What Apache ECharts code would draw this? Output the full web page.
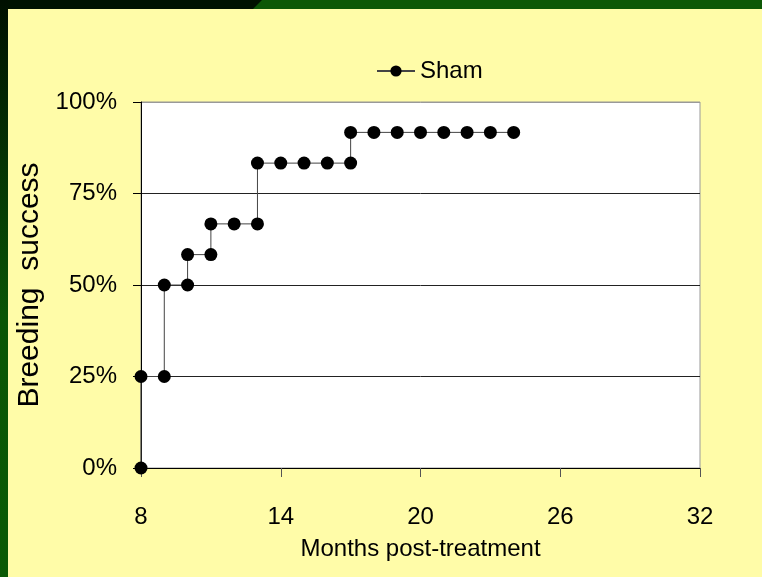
<!DOCTYPE html>
<html>
<head>
<meta charset="utf-8">
<script src="https://cdn.jsdelivr.net/npm/echarts@6/dist/echarts.min.js"></script>
<style>html,body{margin:0;padding:0;}#c{width:762px;height:577px;}</style>
</head>
<body>
<div id="c"></div>
<script>
// Data
var months = [8, 8, 9, 9, 10, 10, 11, 11, 12, 13, 13, 14, 15, 16, 17, 17, 18, 19, 20, 21, 22, 23, 24];
var success = [0, 25, 25, 50, 50, 58.3, 58.3, 66.7, 66.7, 66.7, 83.3, 83.3, 83.3, 83.3, 83.3, 91.7, 91.7, 91.7, 91.7, 91.7, 91.7, 91.7, 91.7];
var xTicks = [8, 14, 20, 26, 32];
var yTicks = [0, 25, 50, 75, 100];
var seriesName = 'Sham';

var points = months.map(function (m, i) { return [m, success[i]]; });
var font = '"Liberation Sans", Arial, sans-serif';

var chart = echarts.init(document.getElementById('c'), null, { renderer: 'canvas' });
chart.setOption({
  backgroundColor: '#FFFCA8',
  animation: false,
  graphic: [
    { type: 'rect', shape: { x: 0, y: 0, width: 762, height: 9 }, style: { fill: '#0D5806' }, silent: true },
    { type: 'polygon', shape: { points: [[0, 0], [262, 0], [253, 9], [0, 9]] }, style: { fill: '#001200' }, silent: true },
    { type: 'rect', shape: { x: 0, y: 0, width: 8, height: 577 },
      style: { fill: new echarts.graphic.LinearGradient(0, 0, 0, 1, [
        { offset: 0, color: '#001000' },
        { offset: 0.55, color: '#0A5506' },
        { offset: 1, color: '#0B5A06' }
      ]) }, silent: true }
  ],
  legend: {
    top: 54,
    left: 371,
    itemWidth: 38,
    itemHeight: 14,
    itemGap: 8,
    textStyle: { fontFamily: font, fontSize: 24, color: '#000' },
    data: [seriesName]
  },
  grid: {
    left: 141, top: 102, right: 62, bottom: 109,
    show: true, backgroundColor: '#FFFFFF', borderColor: '#999', borderWidth: 1
  },
  xAxis: {
    type: 'value',
    min: xTicks[0],
    max: xTicks[xTicks.length - 1],
    name: 'Months post-treatment',
    nameLocation: 'middle',
    nameGap: 69,
    nameTextStyle: { fontFamily: font, fontSize: 24, color: '#000' },
    axisLine: { show: true, lineStyle: { color: '#000', width: 1 } },
    axisTick: { show: true, length: 9, customValues: xTicks, lineStyle: { color: '#555' } },
    axisLabel: { customValues: xTicks, margin: 37, fontFamily: font, fontSize: 24, color: '#000' },
    splitLine: { show: false }
  },
  yAxis: {
    type: 'value',
    min: 0, max: 100, interval: 25,
    name: 'Breeding  success',
    nameLocation: 'middle',
    nameGap: 93,
    nameTextStyle: { fontFamily: font, fontSize: 30, color: '#000' },
    axisLine: { show: true, lineStyle: { color: '#000', width: 1 } },
    axisTick: { show: true, length: 8, lineStyle: { color: '#000' } },
    axisLabel: {
      margin: 24, fontFamily: font, fontSize: 24, color: '#000',
      padding: [8, 0, 0, 0],
      formatter: function (v) { return yTicks.indexOf(v) >= 0 ? v + '%' : ''; }
    },
    splitLine: { show: true, lineStyle: { color: ['#222', '#222', '#222', '#222', '#999'], width: 1 } }
  },
  series: [{
    name: seriesName,
    type: 'line',
    data: points,
    symbol: 'circle',
    symbolSize: 13,
    lineStyle: { color: '#444', width: 1 },
    itemStyle: { color: '#000' },
    z: 5
  }]
});
</script>
</body>
</html>
